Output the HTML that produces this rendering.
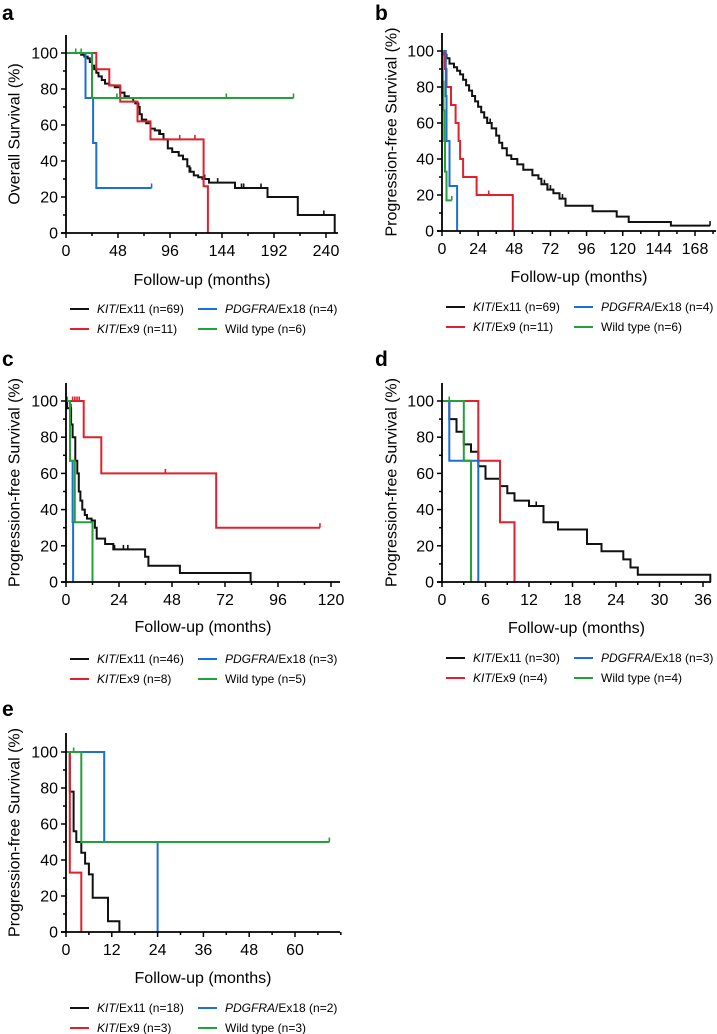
<!DOCTYPE html>
<html><head><meta charset="utf-8">
<style>
html,body{margin:0;padding:0;background:#fff;}
svg{display:block;font-family:"Liberation Sans",Arial,sans-serif;}
</style></head>
<body>
<svg id="fig" width="717" height="1034" viewBox="0 0 717 1034"></svg>
<script>
// ---------- Panel a: Overall survival ----------
const aKit11T=[14,17,20,22,24,26,28,30,33,36,40,45,50,54,58,62,64,66,68,70,74,78,82,86,90,94,98,104,108,112,114,118,122,126,132,156,186,214,248];
const aKit11S=[99,98,97,95,93,91,89,87,85,83,82,81,78,76,75,73,72,70,66,63,61,58,57,55,52,47,45,43,41,37,34,32,31,30,28,25,20,10,0];
const aKit11C=[54,67,87,90,115,128,140,162,164,180,238];
const aKit9T=[28,40,50,66,78,127,131];
const aKit9S=[91,82,73,62,52,26,0];
const aKit9C=[105,119];
const aPdgT=[18,25,28];
const aPdgS=[75,50,25];
const aPdgC=[79];
const aWtT=[24];
const aWtS=[75];
const aWtC=[9,14,47,148,210];
// ---------- Panel b: PFS ----------
const bKit11T=[1,3,5,8,10,12,14,16,18,20,22,24,26,28,30,33,36,38,40,43,46,50,54,60,64,66,70,74,78,82,100,116,124,152];
const bKit11S=[98,96,93,91,89,87,84,81,78,75,72,69,66,63,60,57,53,49,46,42,40,37,34,31,29,26,23,21,18,14,11,8,5,3];
const bKit11C=[2,18,30,32,40,68,70,72,80,178];
const bKit9T=[2,3,6,9,11,12,14,23,47];
const bKit9S=[90,80,70,60,50,40,30,20,0];
const bKit9C=[31];
const bPdgT=[2.5,3,5,10];
const bPdgS=[75,50,25,0];
const bPdgC=[];
const bWtT=[0.5,1,1.5,2,3];
const bWtS=[83,67,50,33,17];
const bWtC=[6.5];
// ---------- Panel c ----------
const cKit11T=[0.5,2.3,3,4.2,5.1,5.8,6.5,7.4,8.5,9.5,11.6,13.1,13.9,17.7,21.4,35.8,37.3,51.6,83.6];
const cKit11S=[96,87,80,67,60,50,45,40,37,35,34,30,24,21,18,14,9,5,0];
const cKit11C=[2.2,22,26,28];
const cKit9T=[8,16,68];
const cKit9S=[80,60,30];
const cKit9C=[3,4,5,6,45,115];
const cPdgT=[1.8,3,3.2];
const cPdgS=[67,33,0];
const cPdgC=[];
const cWtT=[1.8,4,12];
const cWtS=[67,33,0];
const cWtC=[0.6];
// ---------- Panel d ----------
const dKit11T=[1,2,3,4,5,6,8,9,10,12,14,16,20,22,25,26,27,37];
const dKit11S=[90,83,76,72,64,57,53,49,45,42,33,29,21,17,12.5,8,4,0];
const dKit11C=[13];
const dKit9T=[5,8,10];
const dKit9S=[67,33,0];
const dKit9C=[];
const dPdgT=[1,5];
const dPdgS=[67,0];
const dPdgC=[];
const dWtT=[3,4];
const dWtS=[67,0];
const dWtC=[1];
// ---------- Panel e ----------
const eKit11T=[1,2,2.7,4,5,6,7,11,14];
const eKit11S=[78,56,50,44,38,32,19,6,0];
const eKit11C=[];
const eKit9T=[1,4];
const eKit9S=[33,0];
const eKit9C=[];
const ePdgT=[10,24];
const ePdgS=[50,0];
const ePdgC=[];
const eWtT=[4];
const eWtS=[50];
const eWtC=[2,69];

const aXTicks=[0,48,96,144,192,240];
const bXTicks=[0,24,48,72,96,120,144,168];
const cXTicks=[0,24,48,72,96,120];
const dXTicks=[0,6,12,18,24,30,36];
const eXTicks=[0,12,24,36,48,60];
const yTicks=[0,20,40,60,80,100];

const COL={k:'#111',r:'#e0202c',b:'#1b6fd6',g:'#23a03a'};
const NS='http://www.w3.org/2000/svg';
const svg=document.getElementById('fig');
function mk(tag,attrs,parent){const e=document.createElementNS(NS,tag);for(const k in attrs)e.setAttribute(k,attrs[k]);(parent||svg).appendChild(e);return e;}

const panels=[
 {id:'a',letter:[2,20],x0:66,x1:338,xm:252,xr:[0,240],xpx:[66,326],y0:233,y100:53,ytop:35,minor:24,ytitle:'Overall Survival (%)',yTitleX:15,xTitleY:285,leg:[70,309],
  ticks:aXTicks,series:[[aKit11T,aKit11S,aKit11C,'k'],[aKit9T,aKit9S,aKit9C,'r'],[aPdgT,aPdgS,aPdgC,'b'],[aWtT,aWtS,aWtC,'g']],n:['69','11','4','6']},
 {id:'b',letter:[375,20],x0:442,x1:716,xm:182,xr:[0,168],xpx:[442,695],y0:231,y100:51,ytop:33,minor:12,ytitle:'Progression-free Survival (%)',yTitleX:392,xTitleY:282,leg:[446,307],
  ticks:bXTicks,series:[[bKit11T,bKit11S,bKit11C,'k'],[bKit9T,bKit9S,bKit9C,'r'],[bPdgT,bPdgS,bPdgC,'b'],[bWtT,bWtS,bWtC,'g']],n:['69','11','4','6']},
 {id:'c',letter:[2,366],x0:66,x1:340,xm:124,xr:[0,120],xpx:[66,331],y0:582,y100:401,ytop:383,minor:12,ytitle:'Progression-free Survival (%)',yTitleX:15,xTitleY:632,leg:[70,659],
  ticks:cXTicks,series:[[cKit11T,cKit11S,cKit11C,'k'],[cKit9T,cKit9S,cKit9C,'r'],[cPdgT,cPdgS,cPdgC,'b'],[cWtT,cWtS,cWtC,'g']],n:['46','8','3','5']},
 {id:'d',letter:[375,366],x0:442,x1:711,xm:37,xr:[0,36],xpx:[442,703],y0:582,y100:401,ytop:383,minor:3,ytitle:'Progression-free Survival (%)',yTitleX:392,xTitleY:633,leg:[446,658],
  ticks:dXTicks,series:[[dKit11T,dKit11S,dKit11C,'k'],[dKit9T,dKit9S,dKit9C,'r'],[dPdgT,dPdgS,dPdgC,'b'],[dWtT,dWtS,dWtC,'g']],n:['30','4','3','4']},
 {id:'e',letter:[2,716],x0:66,x1:340,xm:72,xr:[0,60],xpx:[66,295],y0:932,y100:752,ytop:733,minor:6,ytitle:'Progression-free Survival (%)',yTitleX:15,xTitleY:983,leg:[70,1008],
  ticks:eXTicks,series:[[eKit11T,eKit11S,eKit11C,'k'],[eKit9T,eKit9S,eKit9C,'r'],[ePdgT,ePdgS,ePdgC,'b'],[eWtT,eWtS,eWtC,'g']],n:['18','3','2','3']}
];

panels.forEach(p=>{
  const g=mk('g',{});
  
  
  const X=t=>p.xpx[0]+(t-p.xr[0])*(p.xpx[1]-p.xpx[0])/(p.xr[1]-p.xr[0]);
  const Y=v=>p.y0-(v/100)*(p.y0-p.y100);
  const lt=mk('text',{x:p.letter[0],y:p.letter[1],'font-size':21,'font-weight':'bold',fill:'#000'},g);
  lt.textContent=p.id;
  
  
  const sg=mk('g',{},g);
  
  
  const names=['kit-ex11','kit-ex9','pdgfra-ex18','wild-type'];
  p.series.forEach((s,i)=>{
    const [T,S,C,c]=s;
    let d='M'+X(0)+','+Y(100);let cur=100;
    const tLast=T.length?T[T.length-1]:0;
    for(let j=0;j<T.length;j++){d+=' H'+X(T[j]).toFixed(1)+' V'+Y(S[j]).toFixed(1);cur=S[j];}
    const maxC=C.length?Math.max(...C):0;
    if(cur>0&&maxC>tLast)d+=' H'+X(maxC).toFixed(1);
    const path=mk('path',{d:d,fill:'none',stroke:COL[c],'stroke-width':2},sg);
    
    
    C.forEach(ct=>{
      let v=100;for(let j=0;j<T.length;j++){if(T[j]<=ct)v=S[j];}
      const tk=mk('line',{x1:X(ct),x2:X(ct),y1:Y(v),y2:Y(v)-4.5,stroke:COL[c],'stroke-width':1.6},sg);
      
      
    });
  });
  const ax=mk('path',{d:`M${p.x0},${p.ytop} V${p.y0} M${p.x0-5},${p.y0} H${p.x1}`,stroke:'#000','stroke-width':1.8,fill:'none'},g);
  
  
  for(let v=0;v<=100;v+=10){
    const major=v%20===0;
    const tk=mk('line',{x1:p.x0-(major?5:3),x2:p.x0,y1:Y(v),y2:Y(v),stroke:'#000','stroke-width':1.5},g);
    
    
  }
  yTicks.forEach(v=>{
    const t=mk('text',{x:p.x0-8,y:Y(v)+5.5,'font-size':16,'text-anchor':'end',fill:'#000'},g);
    t.textContent=v;
    
    
  });
  for(let m=0;m<=p.xm;m+=p.minor){
    const major=p.ticks.indexOf(m)>=0;
    const tk=mk('line',{x1:X(m),x2:X(m),y1:p.y0,y2:p.y0+(major?5:3),stroke:'#000','stroke-width':1.5},g);
    
    
  }
  p.ticks.forEach(m=>{
    const t=mk('text',{x:X(m),y:p.y0+23,'font-size':16,'text-anchor':'middle',fill:'#000'},g);
    t.textContent=m;
    
    
  });
  const yc=(p.ytop+p.y0)/2;
  const yt=mk('text',{x:p.yTitleX,y:yc,'font-size':16,'text-anchor':'middle',transform:`rotate(-90 ${p.yTitleX} ${yc})`,'dominant-baseline':'central',fill:'#000'},g);
  yt.textContent=p.ytitle;
  
  
  const xt=mk('text',{x:(p.x0+p.x1)/2,y:p.xTitleY,'font-size':16,'text-anchor':'middle',fill:'#000'},g);
  xt.textContent='Follow-up (months)';
  
  
  const lg=mk('g',{},g);
  
  
  const ents=[['KIT','/Ex11',p.n[0],'k',0,0],['KIT','/Ex9',p.n[1],'r',0,1],['PDGFRA','/Ex18',p.n[2],'b',1,0],['','Wild type',p.n[3],'g',1,1]];
  ents.forEach(e=>{
    const lx=p.leg[0]+e[4]*128, ly=p.leg[1]+e[5]*20;
    const eg=mk('g',{},lg);
    
    
    mk('line',{x1:lx,x2:lx+19,y1:ly,y2:ly,stroke:COL[e[3]],'stroke-width':2},eg);
    const t=mk('text',{x:lx+27,y:ly+4,'font-size':12,fill:'#000'},eg);
    if(e[0]){const it=mk('tspan',{'font-style':'italic'},t);it.textContent=e[0];}
    const r=mk('tspan',{},t);r.textContent=e[1]+' (n='+e[2]+')';
  });
});
</script>
</body></html>
